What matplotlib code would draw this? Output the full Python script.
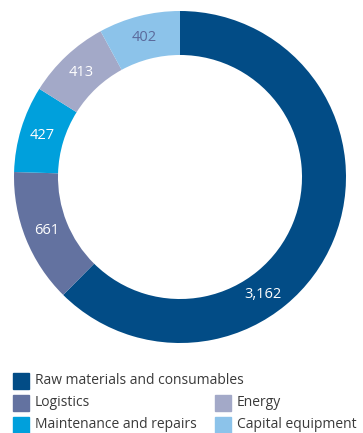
import numpy as np
import matplotlib.pyplot as plt
from matplotlib.patches import Rectangle

plt.rcParams['font.family'] = ['Open Sans', 'DejaVu Sans']

categories = ["Raw materials and consumables", "Logistics", "Maintenance and repairs",
              "Energy", "Capital equipment"]
values = [3162, 661, 427, 413, 402]
colors = ["#024c86", "#6372a0", "#00a0dc", "#a3a9c8", "#8cc3ea"]
label_colors = ["white", "white", "white", "white", "#5b6a9c"]

fig = plt.figure(figsize=(3.63, 4.33), dpi=100)
ax = fig.add_axes([14 / 363, 1 - 343 / 433, 332 / 363, 332 / 433])

width = 0.265
wedges, _ = ax.pie(values, colors=colors, startangle=90, counterclock=False,
                   radius=1.0, wedgeprops=dict(width=width, edgecolor='none'))
ax.set_aspect('equal')
ax.set_xlim(-1, 1)
ax.set_ylim(-1, 1)

r_lab = 1 - width / 2
for i, w in enumerate(wedges):
    ang = (w.theta1 + w.theta2) / 2
    if i == 0:
        # the big slice gets its number near the lower right
        ang = -55
    x = r_lab * np.cos(np.radians(ang))
    y = r_lab * np.sin(np.radians(ang))
    ax.text(x, y, f"{values[i]:,}", ha='center', va='center',
            color=label_colors[i], fontsize=10.5)

# legend drawn by hand: one long entry, then two columns
rows = [(0, 0), (1, 0), (2, 0), (1, 1), (2, 1)]
col_x = [13, 215]
row_y = [381, 403, 425]
for i, (r, c) in enumerate(rows):
    x0 = col_x[c]
    yc = row_y[r]
    fig.patches.append(Rectangle((x0 / 363, 1 - (yc + 8) / 433), 16 / 363, 16 / 433,
                                 transform=fig.transFigure, color=colors[i]))
    fig.text((x0 + 22) / 363, 1 - yc / 433, categories[i], ha='left', va='center',
             color='#3a3a3a', fontsize=10)

fig.savefig("out.png", dpi=100)
